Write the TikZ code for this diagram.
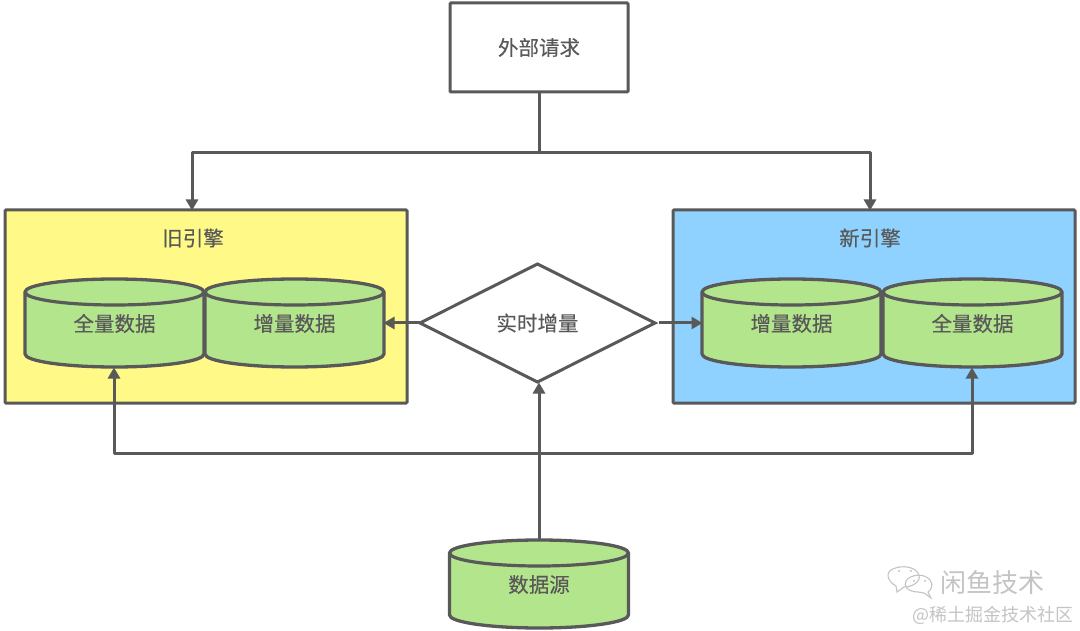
\documentclass[tikz,border=0pt]{standalone}
\usepackage{fontspec}
\setmainfont{Noto Sans CJK SC}
\usetikzlibrary{arrows.meta,shapes.geometric,calc}
\definecolor{ln}{HTML}{595959}
\definecolor{cylg}{HTML}{B3E58C}
\definecolor{oldy}{HTML}{FFF987}
\definecolor{newb}{HTML}{8FD2FF}
\definecolor{wm}{HTML}{C4C4C4}
\tikzset{
  edge/.style={draw=ln,line width=3pt,line join=round,-{Triangle[length=11pt,width=12pt]},shorten >=-0.5pt},
  plainedge/.style={draw=ln,line width=3pt,line join=round},
  boxn/.style={draw=ln,line width=3pt,rounded corners=1pt,fill=white,inner sep=0pt,outer sep=0pt,text=ln},
  engine/.style={boxn,minimum width=402pt,minimum height=193pt},
  lbl/.style={text=ln,font=\fontsize{20.5}{22}\selectfont\addfontfeature{FakeBold=0.3},inner sep=0pt},
  cylbody/.style={draw=ln,line width=3.3pt,fill=cylg,line join=round},
  cylbox/.style={inner sep=0pt,outer sep=0pt,minimum width=179pt,text=ln},
  wmtext/.style={text=wm,inner sep=0pt}
}
% name, left x, top y, height, label, label y
\newcommand{\mycyl}[6]{%
  \path[cylbody] (#2,#3+13) arc[start angle=180,end angle=360,x radius=89.5,y radius=13]
     -- (#2+179,#3+#4-13) arc[start angle=0,end angle=180,x radius=89.5,y radius=13] -- cycle;
  \path[draw=ln,line width=3.2pt] (#2,#3+13) arc[start angle=180,end angle=0,x radius=89.5,y radius=13];
  \node[cylbox,minimum height=#4 pt] (#1) at (#2+89.5,#3+#4/2) {};
  \node[lbl] (#1t) at (#2+89.5,#6) {#5};
}
\begin{document}
\begin{tikzpicture}[x=1pt,y=-1pt]
\useasboundingbox (0,0) rectangle (1080,631);
\fill[white] (0,0) rectangle (1080,631);

\node[boxn,minimum width=178pt,minimum height=89pt,lbl] (req) at (539,47.5) {外部请求};

\node[engine,fill=oldy] (old) at (206,306.5) {};
\node[engine,fill=newb] (new) at (874,306.5) {};
\node[lbl] (oldt) at (193,238) {旧引擎};
\node[lbl] (newt) at (870,238) {新引擎};

\mycyl{a}{25}{279}{88}{全量数据}{323.5}
\mycyl{b}{205}{279}{88}{增量数据}{323.5}
\mycyl{c}{702}{279}{88}{增量数据}{323.5}
\mycyl{d}{883}{279}{88}{全量数据}{323.5}
\mycyl{src}{449.5}{540}{88}{数据源}{584.5}

\node[diamond,aspect=2,draw=ln,line width=3pt,fill=white,inner sep=0pt,outer sep=0pt,minimum width=235pt,minimum height=118pt,lbl] (rt) at (537.5,323) {实时增量};

% connectors
\coordinate (top) at ($(req.south)+(0,61)$);
\coordinate (tl) at (192,153);
\coordinate (tr) at (870,153);
\coordinate (bus) at (539,453);
\coordinate (bl) at (114,453);
\coordinate (br) at (972,453);
\coordinate (al) at (114,368);
\coordinate (ar) at (972,368);
\coordinate (rs) at (659,323);
\coordinate (ts) at (192,210);
\coordinate (te) at (870,210);
\coordinate (rtb) at (539,383);
\draw[plainedge] (req.south) -- (top);
\draw[edge] (top) -- (tl) -- (ts);
\draw[edge] (top) -- (tr) -- (te);
\draw[edge] (rt.west) -- (b.east);
\draw[edge] (rs) -- (c.west);
\draw[edge] (src.north) -- (rtb);
\draw[edge] (bus) -- (bl) -- (al);
\draw[edge] (bus) -- (br) -- (ar);

% watermark
\begin{scope}[draw=wm,line width=1.1pt,fill=white]
\draw (896,586) .. controls (887,581) and (885,572) .. (893,569) .. controls (901,565) and (916,566) .. (919,575) .. controls (921,582) and (912,587) .. (904,587) -- (897,592) -- cycle;
\draw (918,592) .. controls (908,592) and (903,586) .. (906,581) .. controls (910,574) and (925,573) .. (930,580) .. controls (934,585) and (931,590) .. (928,592) -- (931,598) -- (924,593) -- cycle;
\fill[wm] (899,571) circle (1.1pt) (911,571) circle (1.1pt) (914,581) circle (1.1pt) (925,581) circle (1.1pt);
\end{scope}
\node[wmtext,font=\fontsize{26}{28}\selectfont,anchor=west] (wm1) at (940,583) {闲鱼技术};
\node[wmtext,font=\fontsize{18}{20}\selectfont,anchor=east] (wm2) at (1074,615) {@稀土掘金技术社区};
\end{tikzpicture}
\end{document}
